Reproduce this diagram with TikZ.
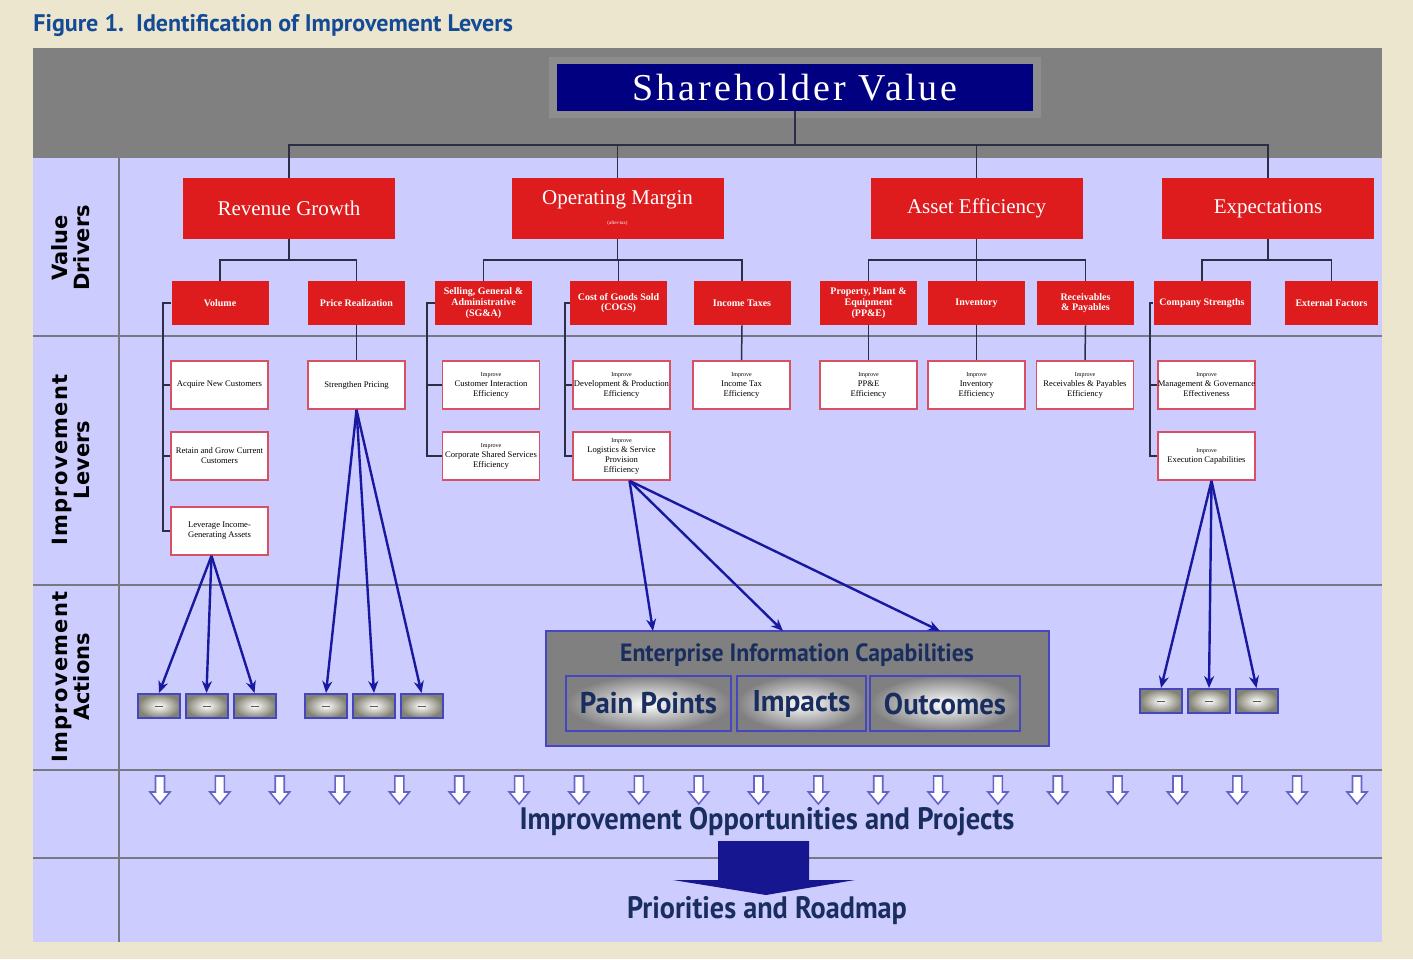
\documentclass[tikz,border=0pt]{standalone}
\usepackage{fontspec}
\setmainfont{Liberation Serif}
\newfontfamily\ptsans{PT Sans}
\newfontfamily\dvsans{DejaVu Sans}
\newfontfamily\dvsansls[LetterSpace=6]{DejaVu Sans}
\newfontfamily\svfont[LetterSpace=8]{Liberation Serif}
\usetikzlibrary{arrows.meta,calc}
\definecolor{beige}{RGB}{236,230,206}
\definecolor{bandgray}{RGB}{128,128,128}
\definecolor{lav}{RGB}{204,204,255}
\definecolor{sepgray}{RGB}{120,120,130}
\definecolor{redbox}{RGB}{222,28,30}
\definecolor{svnavy}{RGB}{0,0,128}
\definecolor{arrowblue}{RGB}{25,25,160}
\definecolor{leverborder}{RGB}{215,80,100}
\definecolor{connc}{RGB}{45,45,70}
\definecolor{titleblue}{RGB}{20,75,150}
\definecolor{navytext}{RGB}{25,45,95}
\definecolor{eicborder}{RGB}{70,70,190}
\definecolor{hollowblue}{RGB}{100,100,200}
\definecolor{actgray}{RGB}{130,130,115}
\newcommand\impr{{\fontsize{3}{3}\selectfont Improve}}
\newcommand\sqz[2]{\scalebox{#1}[1]{#2}}
\begin{document}
\begin{tikzpicture}[x=0.5pt,y=-0.5pt,
  lvone/.style={fill=redbox, minimum width=106pt, minimum height=30.5pt, inner sep=0, text=white, align=center, font=\fontsize{10.5}{11}\selectfont},
  lvtwo/.style={fill=redbox, minimum width=48.5pt, minimum height=22pt, inner sep=0, text=white, align=center, font=\fontsize{5}{5.3}\selectfont\bfseries},
  lever/.style={draw=leverborder, line width=0.8pt, fill=white, minimum width=48.5pt, minimum height=24pt, inner sep=0, align=center, font=\fontsize{4.3}{5}\selectfont},
  actbox/.style={draw=eicborder, line width=1pt, inner color=white, outer color=actgray, minimum width=21pt, minimum height=12pt, inner sep=0},
  conn/.style={draw=connc, line width=0.75pt},
  barrow/.style={draw=arrowblue, line width=1.2pt, -{Stealth[length=6pt,width=5pt]}},
  sepline/.style={draw=sepgray, line width=1pt},
  hollow/.style={draw=hollowblue, fill=white, line width=0.8pt},
  eicsub/.style={draw=eicborder, line width=1pt, inner color=white, outer color=bandgray, minimum height=27.5pt, inner sep=0, text=navytext, font=\ptsans\bfseries\fontsize{15}{15}\selectfont},
  rowlbl/.style={rotate=90, align=center, inner sep=0, font=\dvsans\bfseries\fontsize{10.5}{11}\selectfont}
]
\useasboundingbox (0,0) rectangle (1413,959);
\fill[beige] (0,0) rectangle (1413,959);
% title
\node[anchor=base west, inner sep=0, text=titleblue, font=\ptsans\bfseries\fontsize{12}{13}\selectfont] (title) at (33,31) {Figure 1.\ \ Identification of Improvement Levers};
% panel
\fill[lav] (33,158) rectangle (1382,942);
\fill[bandgray] (33,48) rectangle (1382,158);
\foreach \yy in {336,585,770,858} \draw[sepline] (33,\yy) -- (1382,\yy);
\draw[sepgray, line width=0.7pt] (119,158) -- (119,942);
% row labels
\node[rowlbl] (rl1) at (71,248) {Value\\Drivers};
\node[rowlbl] (rl2) at (71,460) {{\dvsansls Improvement}\\Levers};
\node[rowlbl] (rl3) at (71,677) {{\dvsansls Improvement}\\Actions};
% shareholder value
\fill[bandgray!90!white] (549,57) rectangle (1041,118);
\node[fill=svnavy, minimum width=238pt, minimum height=23.5pt, inner sep=0, text=white, font=\svfont\fontsize{19}{20}\selectfont] (sv) at (795,87.5) {Shareholder Value};
% level 1
\node[lvone] (rg) at (289,208.5) {Revenue Growth};
\node[lvone] (om) at (617.5,208.5) {Operating Margin\\[-1pt]{\fontsize{2.5}{3}\selectfont (after-tax)}};
\node[lvone] (ae) at (976.5,208.5) {Asset Efficiency};
\node[lvone] (ex) at (1268,208.5) {Expectations};
\coordinate (bus1) at (0,145);
\draw[conn] (sv.south) -- (sv.south |- bus1);
\draw[conn] (rg.north) -- (rg.north |- bus1) -- (ex.north |- bus1) -- (ex.north);
\draw[conn] (om.north) -- (om.north |- bus1);
\draw[conn] (ae.north) -- (ae.north |- bus1);
% level 2
\node[lvtwo] (vol) at (220,303) {Volume};
\node[lvtwo] (pr) at (356.5,303) {Price Realization};
\node[lvtwo] (sga) at (483.5,303) {Selling, General \&\\Administrative\\(SG\&A)};
\node[lvtwo] (cogs) at (618.5,303) {Cost of Goods Sold\\(COGS)};
\node[lvtwo] (tax) at (742,303) {Income Taxes};
\node[lvtwo] (ppe) at (868.5,303) {Property, Plant \&\\Equipment\\(PP\&E)};
\node[lvtwo] (inv) at (976.5,303) {Inventory};
\node[lvtwo] (rp) at (1085.5,303) {Receivables\\\& Payables};
\node[lvtwo] (cs) at (1202,303) {Company Strengths};
\node[lvtwo, minimum width=46.5pt] (ef) at (1331.5,303) {External Factors};
\coordinate (bus2) at (0,260);
\draw[conn] (rg.south) -- (rg.south |- bus2);
\draw[conn] (vol.north) -- (vol.north |- bus2) -- (pr.north |- bus2) -- (pr.north);
\draw[conn] (om.south) -- (om.south |- bus2);
\draw[conn] (sga.north) -- (sga.north |- bus2) -- (tax.north |- bus2) -- (tax.north);
\draw[conn] (cogs.north) -- (cogs.north |- bus2);
\draw[conn] (ae.south) -- (ae.south |- bus2);
\draw[conn] (ppe.north) -- (ppe.north |- bus2) -- (rp.north |- bus2) -- (rp.north);
\draw[conn] (inv.north) -- (inv.north |- bus2);
\draw[conn] (ex.south) -- (ex.south |- bus2);
\draw[conn] (cs.north) -- (cs.north |- bus2) -- (ef.north |- bus2) -- (ef.north);
% levers
\node[lever] (acq) at (219.5,385) {Acquire New Customers};
\node[lever] (ret) at (219.5,456) {Retain and Grow Current\\Customers};
\node[lever] (lia) at (219.5,531) {Leverage Income-\\Generating Assets};
\node[lever] (spr) at (356.5,385) {Strengthen Pricing};
\node[lever] (cie) at (491,385) {\impr\\Customer Interaction\\Efficiency};
\node[lever] (css) at (491,456) {\impr\\Corporate Shared Services\\Efficiency};
\node[lever] (dpe) at (621.5,385) {\impr\\Development \& Production\\Efficiency};
\node[lever] (lsp) at (621.5,456) {\impr\\Logistics \& Service\\Provision\\Efficiency};
\node[lever] (ite) at (741.5,385) {\impr\\Income Tax\\Efficiency};
\node[lever] (pee) at (868.5,385) {\impr\\PP\&E\\Efficiency};
\node[lever] (ive) at (976.5,385) {\impr\\Inventory\\Efficiency};
\node[lever] (rpe) at (1085,385) {\impr\\Receivables \& Payables\\Efficiency};
\node[lever] (mge) at (1206.5,385) {\impr\\Management \& Governance\\Effectiveness};
\node[lever] (exc) at (1206.5,456) {\impr\\Execution Capabilities};
% lever connectors
\coordinate (vx) at (163,0);
\draw[conn] (vol.west) -- (vol.west -| vx) -- (lia.west -| vx) -- (lia.west);
\draw[conn] (acq.west -| vx) -- (acq.west);
\draw[conn] (ret.west -| vx) -- (ret.west);
\draw[conn] (pr.south) -- (spr.north);
\coordinate (sx) at (427,0);
\draw[conn] (sga.west) -- (sga.west -| sx) -- (css.west -| sx) -- (css.west);
\draw[conn] (cie.west -| sx) -- (cie.west);
\coordinate (cx) at (565,0);
\draw[conn] (cogs.west) -- (cogs.west -| cx) -- (lsp.west -| cx) -- (lsp.west);
\draw[conn] (dpe.west -| cx) -- (dpe.west);
\draw[conn] (tax.south) -- (ite.north);
\draw[conn] (ppe.south) -- (pee.north);
\draw[conn] (inv.south) -- (ive.north);
\draw[conn] (rp.south) -- (rpe.north);
\coordinate (ex2) at (1150,0);
\draw[conn] (cs.west) -- (cs.west -| ex2) -- (exc.west -| ex2) -- (exc.west);
\draw[conn] (mge.west -| ex2) -- (mge.west);
% action boxes
\node[actbox] (a1) at (159,706) {};
\node[actbox] (a2) at (206.5,706) {};
\node[actbox] (a3) at (254.5,706) {};
\node[actbox] (a4) at (326,706) {};
\node[actbox] (a5) at (374,706) {};
\node[actbox] (a6) at (421.5,706) {};
\node[actbox] (a7) at (1161,701) {};
\node[actbox] (a8) at (1209,701) {};
\node[actbox] (a9) at (1256.5,701) {};
\foreach \n in {a1,a2,a3,a4,a5,a6,a7,a8,a9}
  \draw[gray!70!black, line width=0.5pt] ($(\n.center)+(-4,0)$) -- ($(\n.center)+(4,0)$);
% enterprise information capabilities
\node[draw=eicborder, line width=1.2pt, fill=bandgray, minimum width=251.5pt, minimum height=57.5pt, inner sep=0] (eic) at (797.5,688.5) {};
\node[inner sep=0, text=navytext, font=\ptsans\bfseries\fontsize{12.5}{13}\selectfont] (eict) at (797,655) {\sqz{0.95}{Enterprise Information Capabilities}};
\node[eicsub, minimum width=82.5pt] (pp) at (648.5,703.5) {\sqz{0.96}{Pain Points}};
\node[eicsub, minimum width=64.5pt] (im) at (801.5,703.5) {\sqz{0.98}{Impacts}};
\node[eicsub, minimum width=75pt] (oc) at (945,703.5) {\sqz{0.96}{Outcomes}};
% blue arrows
\foreach \t in {a1,a2,a3} \draw[barrow] ([xshift=-4pt]lia.south) -- (\t.north);
\foreach \t in {a4,a5,a6} \draw[barrow] (spr.south) -- (\t.north);
\foreach \t in {a7,a8,a9} \draw[barrow] ([xshift=2.5pt]exc.south) -- (\t.north);
\coordinate (t1) at (653,631);
\coordinate (t2) at (783,631);
\coordinate (t3) at (940,631);
\foreach \t in {t1,t2,t3} \draw[barrow] ([xshift=4pt]lsp.south) -- (\t);
% hollow arrows
\foreach \i in {0,...,20} {
  \pgfmathsetmacro\xx{160+\i*59.85}
  \draw[hollow] (\xx-4.5,776) -- (\xx+4.5,776) -- (\xx+4.5,792) -- (\xx+10,792) -- (\xx,804) -- (\xx-10,792) -- (\xx-4.5,792) -- cycle;
}
\node[inner sep=0, text=navytext, font=\ptsans\bfseries\fontsize{15.5}{16}\selectfont] (iop) at (767,822) {\sqz{0.92}{Improvement Opportunities and Projects}};
\fill[arrowblue!90!black] (718,841) -- (809,841) -- (809,880) -- (855,880) -- (766,895) -- (673,880) -- (718,880) -- cycle;
\node[inner sep=0, text=navytext, font=\ptsans\bfseries\fontsize{15.5}{16}\selectfont] (prm) at (767,911) {\sqz{0.91}{Priorities and Roadmap}};
\end{tikzpicture}
\end{document}
